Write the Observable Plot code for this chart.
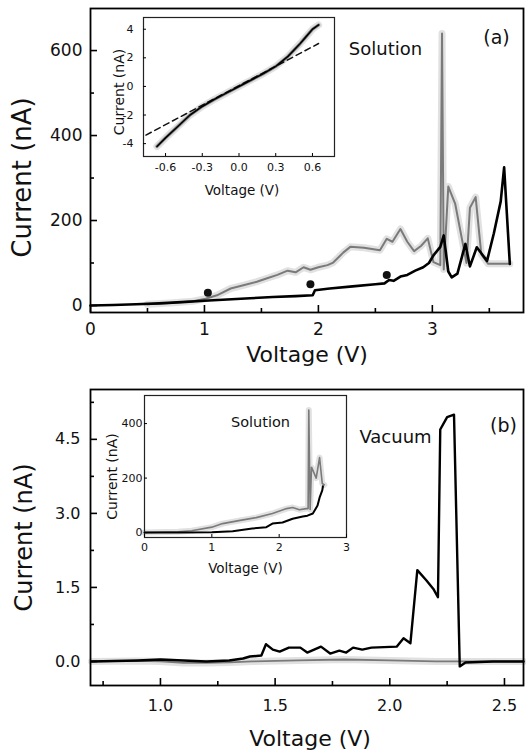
<!DOCTYPE html>
<html><head><meta charset="utf-8">
<script src="https://cdn.jsdelivr.net/npm/d3@7"></script>
<script src="https://cdn.jsdelivr.net/npm/@observablehq/plot@0.6"></script>
<style>
html,body{margin:0;padding:0;background:#fff;}
#chart{position:relative;width:526px;height:753px;overflow:hidden;background:#fff;}
#chart svg{position:absolute;}
</style></head><body><div id="chart"></div>
<script>
// ---------- Panel (a): solution, main ----------
const aBlack = [[0,0],[0.2,1],[0.4,3],[0.6,5],[0.8,8],[1.0,11],[1.2,14],[1.4,17],[1.6,20],[1.8,22],[1.95,24],[1.97,36],[2.1,40],[2.3,45],[2.5,50],[2.58,52],[2.62,60],[2.66,58],[2.72,68],[2.78,72],[2.85,82],[2.92,90],[2.97,100],[3.01,118],[3.07,138],[3.1,165],[3.14,80],[3.17,66],[3.22,75],[3.29,145],[3.33,92],[3.39,137],[3.48,105],[3.54,170],[3.6,245],[3.63,325],[3.68,98]];
const aGray = [[0.5,3],[0.7,6],[0.9,10],[1.01,16],[1.11,24],[1.23,40],[1.35,48],[1.46,56],[1.55,64],[1.64,72],[1.73,82],[1.8,78],[1.87,90],[1.93,84],[2.0,90],[2.08,95],[2.13,101],[2.22,125],[2.28,138],[2.4,136],[2.54,130],[2.6,157],[2.65,150],[2.72,180],[2.78,150],[2.84,128],[2.9,140],[2.96,158],[3.01,102],[3.07,95],[3.085,640],[3.1,85],[3.14,280],[3.2,240],[3.3,100],[3.33,230],[3.38,255],[3.43,120],[3.49,98],[3.68,98]];
const aDots = [[1.03,30],[1.93,50],[2.6,72]];
const aXTicks = [0,1,2,3], aXLabels = ["0","1","2","3"], aXMinor = [0.5,1.5,2.5,3.5];
const aYTicks = [0,200,400,600], aYLabels = ["0","200","400","600"], aYMinor = [100,300,500];
const aXDomain = [0,3.8], aYDomain = [-16.5,699];

// ---------- Panel (a) inset: low-bias I-V ----------
const aiSolid = [[-0.67,-4.2],[-0.6,-3.6],[-0.5,-2.8],[-0.4,-2.0],[-0.3,-1.4],[-0.2,-0.9],[-0.1,-0.45],[0,0],[0.1,0.45],[0.2,0.9],[0.3,1.4],[0.4,2.1],[0.5,3.0],[0.55,3.5],[0.6,4.0],[0.65,4.3]];
const aiDashed = [[-0.76,-3.4],[0.65,3.0]];
const aiXTicks = [-0.6,-0.3,0,0.3,0.6], aiXLabels = ["-0.6","-0.3","0.0","0.3","0.6"];
const aiYTicks = [-4,-2,0,2,4], aiYLabels = ["-4","-2","0","2","4"];
const aiXDomain = [-0.78,0.78], aiYDomain = [-4.9,4.82];

// ---------- Panel (b): vacuum, main ----------
const bBlack = [[0.7,0],[0.9,0.02],[1.0,0.04],[1.1,0.02],[1.2,0.0],[1.3,0.02],[1.36,0.06],[1.39,0.1],[1.44,0.12],[1.46,0.35],[1.49,0.24],[1.52,0.2],[1.56,0.28],[1.61,0.28],[1.64,0.18],[1.7,0.3],[1.74,0.16],[1.78,0.22],[1.81,0.18],[1.84,0.28],[1.88,0.24],[1.92,0.28],[2.03,0.3],[2.06,0.47],[2.09,0.37],[2.12,1.85],[2.16,1.64],[2.19,1.47],[2.21,1.3],[2.22,4.7],[2.25,4.95],[2.28,5.0],[2.305,-0.1],[2.33,-0.02],[2.45,0],[2.583,0]];
const bGray = [[0.7,0],[0.9,0.01],[1.0,0.0],[1.1,-0.03],[1.2,-0.03],[1.3,-0.02],[1.4,0.0],[1.6,0.02],[1.8,0.04],[2.0,0.02],[2.2,0.0],[2.4,0.0],[2.583,0.0]];
const bXTicks = [1,1.5,2,2.5], bXLabels = ["1.0","1.5","2.0","2.5"], bXMinor = [0.75,1.25,1.75,2.25];
const bYTicks = [0,1.5,3,4.5], bYLabels = ["0.0","1.5","3.0","4.5"], bYMinor = [0.75,2.25,3.75,5.25];
const bXDomain = [0.695,2.583], bYDomain = [-0.487,5.51];

// ---------- Panel (b) inset: solution overview ----------
const biBlack = [[0,0],[0.5,0],[1.0,1],[1.31,5],[1.6,15],[1.81,20],[1.9,33],[2.05,37],[2.2,51],[2.35,59],[2.42,62],[2.5,70],[2.57,99],[2.6,128],[2.64,155],[2.65,170]];
const biGray = [[0,0],[0.5,3],[0.7,7],[1.0,20],[1.16,33],[1.4,44],[1.66,55],[1.9,70],[2.11,88],[2.2,92],[2.3,84],[2.4,88],[2.43,88],[2.44,450],[2.46,85],[2.48,240],[2.55,200],[2.6,275],[2.64,180],[2.67,175]];
const biXTicks = [0,1,2,3], biXLabels = ["0","1","2","3"];
const biYTicks = [0,200,400], biYLabels = ["0","200","400"];
const biXDomain = [0,3], biYDomain = [-18,503];

const texts = {xTitle:"Voltage (V)", yTitle:"Current (nA)", sol:"Solution", vac:"Vacuum", a:"(a)", b:"(b)"};

// ---------- helpers ----------
const pts = arr => arr.map(([v, i]) => ({v, i}));
const FONT = "DejaVu Sans";
function lab(ticks, labels) { return d => labels[ticks.indexOf(d)]; }
// inward ticks drawn as short tick marks on the bottom and left frame edges
function axes(o) {
  const m = [];
  const tx = (data, len) => Plot.tickX(data, {x: d => d, insetTop: o.ih - len, stroke: "#000", strokeWidth: o.tw});
  const ty = (data, len) => Plot.tickY(data, {y: d => d, insetRight: o.iw - len, stroke: "#000", strokeWidth: o.tw});
  m.push(tx(o.xT, o.maj), ty(o.yT, o.maj));
  if (o.xM) m.push(tx(o.xM, o.min));
  if (o.yM) m.push(ty(o.yM, o.min));
  m.push(Plot.axisX(o.xT, {tickSize: 0, tickPadding: o.px, tickFormat: lab(o.xT, o.xL), fontSize: o.fs, label: null, fill: "#111"}));
  m.push(Plot.axisY(o.yT, {tickSize: 0, tickPadding: o.py, tickFormat: lab(o.yT, o.yL), fontSize: o.fs, label: null, fill: "#111"}));
  return m;
}
function label(t, opts) {
  return Plot.text([t], {textAnchor: "middle", lineAnchor: "middle", fill: "#111", ...opts});
}
function place(svg, left, top) {
  svg.style.left = left + "px"; svg.style.top = top + "px";
  document.getElementById("chart").appendChild(svg);
}
const style = {fontFamily: FONT, background: "transparent", overflow: "visible", color: "#000"};

// ---------- Panel (a) main ----------
place(Plot.plot({
  width: 526, height: 375, marginLeft: 90, marginRight: 3, marginTop: 8, marginBottom: 63,
  style,
  x: {domain: aXDomain}, y: {domain: aYDomain},
  marks: [
    Plot.line(pts(aGray), {x: "v", y: "i", stroke: "#c9c9c9", strokeWidth: 7, strokeOpacity: 0.55}),
    Plot.line(pts(aGray), {x: "v", y: "i", stroke: "#7a7a7a", strokeWidth: 2}),
    Plot.line(pts(aBlack), {x: "v", y: "i", stroke: "#000", strokeWidth: 2.6}),
    Plot.dot(pts(aDots), {x: "v", y: "i", r: 4, fill: "#111"}),
    Plot.frame({stroke: "#000", strokeWidth: 1.8}),
    ...axes({xT: aXTicks, xL: aXLabels, xM: aXMinor, yT: aYTicks, yL: aYLabels, yM: aYMinor, ih: 304, iw: 433, maj: 7, min: 4, tw: 1.6, px: 10, py: 8, fs: 17}),
    label(texts.xTitle, {frameAnchor: "bottom", dy: 42, fontSize: 22}),
    label(texts.yTitle, {frameAnchor: "left", rotate: -90, dx: -68, dy: 17, fontSize: 26}),
    label(texts.sol, {frameAnchor: "top-right", dx: -138, dy: 41, fontSize: 18}),
    label(texts.a, {frameAnchor: "top-right", dx: -27, dy: 29, fontSize: 19})
  ]
}), 0, 0);

// ---------- Panel (a) inset ----------
place(Plot.plot({
  width: 236, height: 186, marginLeft: 43, marginRight: 2, marginTop: 2, marginBottom: 45,
  style,
  x: {domain: aiXDomain}, y: {domain: aiYDomain},
  marks: [
    Plot.line(pts(aiSolid), {x: "v", y: "i", stroke: "#c9c9c9", strokeWidth: 7, strokeOpacity: 0.55}),
    Plot.line(pts(aiSolid), {x: "v", y: "i", stroke: "#8a8a8a", strokeWidth: 3.2}),
    Plot.line(pts(aiDashed), {x: "v", y: "i", stroke: "#111", strokeWidth: 1.5, strokeDasharray: "6,4"}),
    Plot.line(pts(aiSolid), {x: "v", y: "i", stroke: "#000", strokeWidth: 1.6}),
    Plot.frame({stroke: "#222", strokeWidth: 1.2}),
    ...axes({xT: aiXTicks, xL: aiXLabels, yT: aiYTicks, yL: aiYLabels, ih: 139, iw: 191, maj: 3, min: 2, tw: 1, px: 7, py: 10, fs: 11}),
    label(texts.xTitle, {frameAnchor: "bottom", dx: 3, dy: 34, fontSize: 13.5}),
    label(texts.yTitle, {frameAnchor: "left", rotate: -90, dx: -24, dy: 5, fontSize: 14})
  ]
}), 100, 15);

// ---------- Panel (b) main ----------
place(Plot.plot({
  width: 526, height: 378, marginLeft: 90, marginRight: 3, marginTop: 14, marginBottom: 68,
  style,
  x: {domain: bXDomain}, y: {domain: bYDomain},
  marks: [
    Plot.line(pts(bGray), {x: "v", y: "i", stroke: "#c9c9c9", strokeWidth: 7, strokeOpacity: 0.55}),
    Plot.line(pts(bGray), {x: "v", y: "i", stroke: "#7a7a7a", strokeWidth: 1.8}),
    Plot.line(pts(bBlack), {x: "v", y: "i", stroke: "#000", strokeWidth: 2.4}),
    Plot.frame({stroke: "#000", strokeWidth: 1.8}),
    ...axes({xT: bXTicks, xL: bXLabels, xM: bXMinor, yT: bYTicks, yL: bYLabels, yM: bYMinor, ih: 296, iw: 433, maj: 7, min: 4, tw: 1.6, px: 14, py: 10, fs: 16}),
    label(texts.xTitle, {frameAnchor: "bottom", dx: 3, dy: 53, fontSize: 22}),
    label(texts.yTitle, {frameAnchor: "left", rotate: -90, dx: -66, fontSize: 24}),
    label(texts.vac, {frameAnchor: "top-right", dx: -128, dy: 48, fontSize: 18}),
    label(texts.b, {frameAnchor: "top-right", dx: -20, dy: 36, fontSize: 19})
  ]
}), 0, 375);

// ---------- Panel (b) inset ----------
place(Plot.plot({
  width: 248, height: 184, marginLeft: 44, marginRight: 2, marginTop: 2, marginBottom: 40,
  style,
  x: {domain: biXDomain}, y: {domain: biYDomain},
  marks: [
    Plot.line(pts(biGray), {x: "v", y: "i", stroke: "#c9c9c9", strokeWidth: 6, strokeOpacity: 0.55}),
    Plot.line(pts(biGray), {x: "v", y: "i", stroke: "#7a7a7a", strokeWidth: 1.6}),
    Plot.line(pts(biBlack), {x: "v", y: "i", stroke: "#000", strokeWidth: 2}),
    Plot.frame({stroke: "#222", strokeWidth: 1.2}),
    ...axes({xT: biXTicks, xL: biXLabels, yT: biYTicks, yL: biYLabels, ih: 142, iw: 202, maj: 3, min: 2, tw: 1, px: 6, py: 2, fs: 11}),
    label(texts.xTitle, {frameAnchor: "bottom", dy: 31, fontSize: 13.5}),
    label(texts.yTitle, {frameAnchor: "left", rotate: -90, dx: -32, dy: 10, fontSize: 14}),
    label(texts.sol, {frameAnchor: "top-left", dx: 116, dy: 27, fontSize: 14.5})
  ]
}), 100, 393);
</script></body></html>
